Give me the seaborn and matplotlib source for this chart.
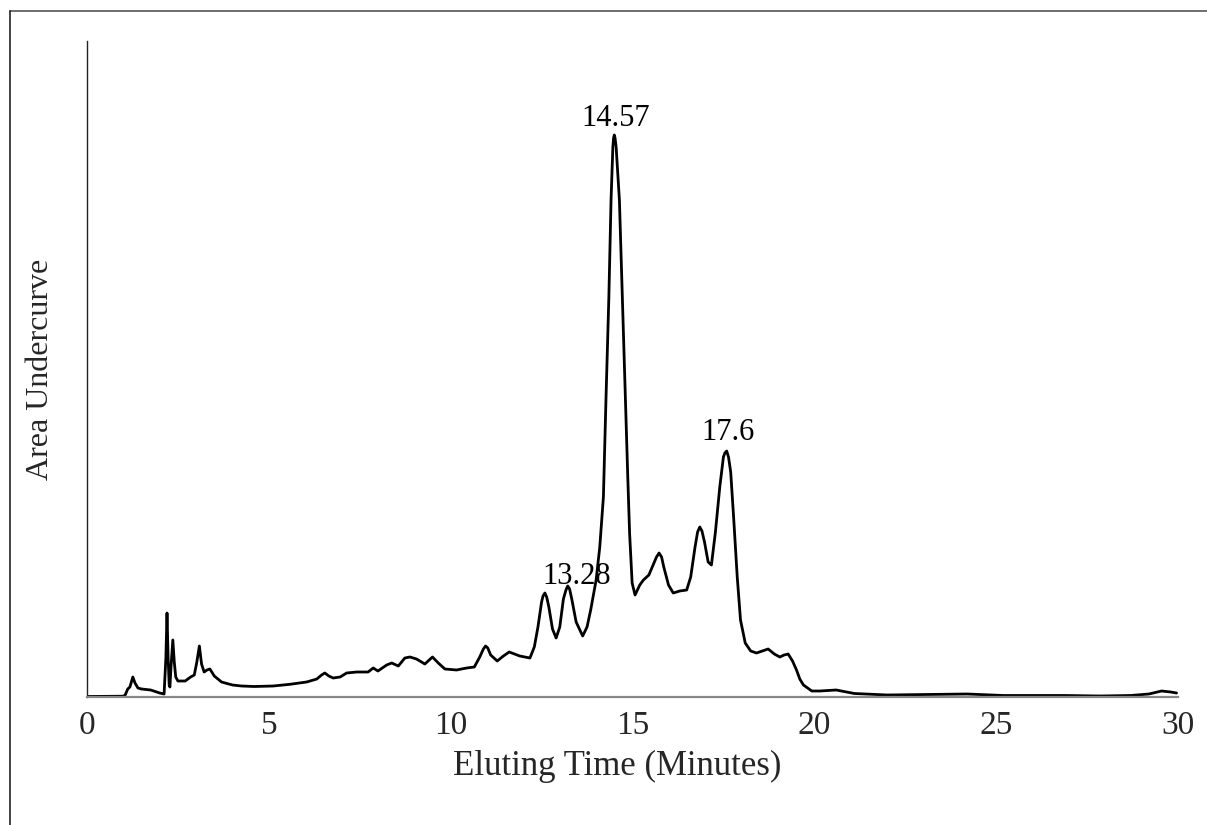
import numpy as np
import pandas as pd
import matplotlib
matplotlib.use("Agg")
import matplotlib.pyplot as plt
from matplotlib.lines import Line2D
import seaborn as sns

# ---- data ----
time_min = [0.0, 0.5, 1.0, 1.05, 1.12, 1.18, 1.26, 1.32, 1.4, 1.5, 1.75, 2.0, 2.12,
            2.17, 2.2, 2.23, 2.26, 2.28, 2.31, 2.36, 2.4, 2.44, 2.5, 2.7, 2.85, 2.95,
            3.02, 3.09, 3.15, 3.22, 3.3, 3.38, 3.5, 3.7, 4.0, 4.25, 4.6, 5.12, 5.58,
            6.04, 6.32, 6.45, 6.54, 6.65, 6.77, 6.96, 7.14, 7.42, 7.73, 7.87, 8.0,
            8.24, 8.38, 8.56, 8.74, 8.88, 9.06, 9.29, 9.5, 9.66, 9.84, 10.16, 10.44,
            10.65, 10.8, 10.9, 10.96, 11.02, 11.1, 11.28, 11.45, 11.61, 11.9, 12.18,
            12.3, 12.4, 12.5, 12.54, 12.59, 12.64, 12.7, 12.8, 12.9, 13.0, 13.1,
            13.17, 13.22, 13.27, 13.33, 13.45, 13.63, 13.75, 13.85, 14.0, 14.1, 14.2,
            14.27, 14.35, 14.41, 14.46, 14.48, 14.5, 14.52, 14.55, 14.64, 14.72,
            14.78, 14.87, 14.92, 14.99, 15.07, 15.2, 15.3, 15.45, 15.6, 15.66, 15.73,
            15.8, 15.86, 15.99, 16.12, 16.3, 16.49, 16.6, 16.72, 16.79, 16.85, 16.91,
            16.98, 17.08, 17.17, 17.28, 17.4, 17.5, 17.54, 17.59, 17.64, 17.7, 17.78,
            17.88, 17.97, 18.1, 18.25, 18.41, 18.57, 18.73, 18.9, 19.05, 19.17, 19.28,
            19.4, 19.51, 19.6, 19.7, 19.93, 20.15, 20.6, 21.1, 22.0, 23.0, 24.2, 25.2,
            26.9, 27.85, 28.7, 29.2, 29.55, 29.8, 29.96]
signal = [0.5, 0.7, 0.8, 2, 8, 10, 20, 14, 9, 8, 7, 4, 3,
          40, 84, 40, 12, 10, 30, 57, 35, 20, 16, 16, 20, 22,
          35, 51, 33, 25, 27, 28, 21, 15, 12, 11, 10.5, 11, 12.7,
          15, 18, 22, 24, 21, 19, 20, 24, 25, 25, 29, 26,
          32, 34, 31, 39, 40, 38, 33, 40, 34, 28, 27, 29,
          30, 40, 48, 51, 49, 42, 36, 41, 45, 41, 39,
          50, 70, 95, 101, 104, 100, 90, 68, 59, 70, 98,
          107, 111, 108, 98, 75, 61, 70, 87, 117, 150, 200,
          297, 400, 497, 550, 559, 562, 559, 550, 497, 400,
          330, 220, 164, 114, 102, 112, 117, 122, 135, 140, 144,
          140, 130, 112, 104, 106, 107, 120, 150, 165, 170, 166,
          155, 135, 132, 165, 210, 240, 244, 246, 240, 225, 180,
          120, 77, 54, 46, 44, 46, 48, 43, 40, 42, 43,
          36, 27, 18, 12, 6, 6, 7, 3.5, 2, 2.5, 3, 1.5,
          1.5, 1, 1.5, 3, 6, 5, 4]

peak_labels = ["13.28", "14.57", "17.6"]
label_x = [13.47, 14.53, 17.62]
label_y = [121, 579, 265]

x_ticks = [0, 5, 10, 15, 20, 25, 30]

df = pd.DataFrame({"time": time_min, "signal": signal})

sns.set_style("white")
plt.rcParams["font.family"] = ["Liberation Serif", "DejaVu Serif"]

fig = plt.figure(figsize=(12.07, 8.25), dpi=100)
ax = fig.add_axes([87 / 1207, 1 - 697 / 825, 1091 / 1207, 656 / 825])

sns.lineplot(data=df, x="time", y="signal", ax=ax, color="black",
             linewidth=2.0, estimator=None, sort=False)
for ln in ax.get_lines():
    ln.set_solid_joinstyle("round")
    ln.set_solid_capstyle("round")

ax.set_xlim(0, 30)
ax.set_ylim(0, 656)
ax.set_xticks(x_ticks)
ax.set_xticklabels([str(v) for v in x_ticks])
ax.set_yticks([])
ax.tick_params(axis="x", length=0, pad=10, labelsize=24)

for s in ["top", "right"]:
    ax.spines[s].set_visible(False)
ax.spines["left"].set_color("#222222")
ax.spines["left"].set_linewidth(1.0)
ax.spines["bottom"].set_color("#888888")
ax.spines["bottom"].set_linewidth(1.6)

ax.set_xlabel("Eluting Time (Minutes)", fontsize=25)
ax.set_ylabel("Area Undercurve", fontsize=23)
ax.xaxis.set_label_coords(0.486, -0.08)
ax.yaxis.set_label_coords(-0.029, 0.5)

for lab, lx, ly in zip(peak_labels, label_x, label_y):
    ax.text(lx, ly, lab, ha="center", va="center", fontsize=22, color="black")

# outer frame (only top and left edges are visible in the reference)
fig.add_artist(Line2D([10 / 1207, 1.0], [1 - 11 / 825, 1 - 11 / 825],
                      transform=fig.transFigure, color="#555555", linewidth=1.2))
fig.add_artist(Line2D([10 / 1207, 10 / 1207], [0.0, 1 - 11 / 825],
                      transform=fig.transFigure, color="#222222", linewidth=1.2))

fig.savefig("out.png", dpi=100)
